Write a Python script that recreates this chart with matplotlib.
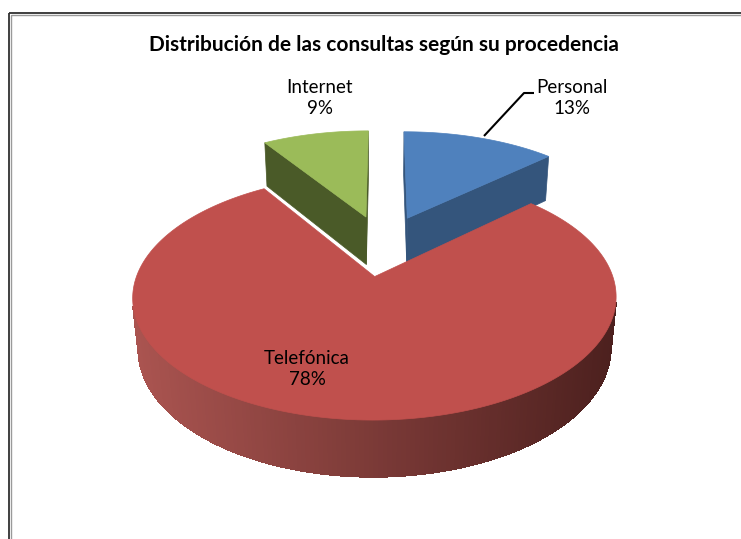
import matplotlib.pyplot as plt
import numpy as np
from matplotlib.patches import Polygon, Rectangle
from matplotlib.colors import to_rgb

# datos (orden de Excel, en sentido horario desde las 12)
categorias = ['Personal', 'Telefónica', 'Internet']
porcentajes = [13, 78, 9]
colores_sup = ['#4F81BD', '#C0504D', '#9BBB59']
colores_lado = ['#34557C', '#7B3433', '#4A5A28']
titulo = 'Distribución de las consultas según su procedencia'

# posiciones de las etiquetas (pixeles)
pos_etiquetas = [(572, 98), (307, 369), (320, 98)]

# proyeccion en perspectiva de la tarta 3D
phi = np.radians(28.5)
D = 5.4
F = 1228
cx, cy = 383, 245
h = 0.25      # grosor
e = 0.28      # separacion de porciones
cam = np.array([0, -D*np.cos(phi), D*np.sin(phi)])


def proj(X, Y, Z):
    prof = D + Y*np.cos(phi) - Z*np.sin(phi)
    up = Y*np.sin(phi) + Z*np.cos(phi)
    return cx + F*X/prof, cy - F*up/prof


def direc(t):
    r = np.radians(t)
    return np.array([np.sin(r), np.cos(r)])


def visible(p, n):
    return np.dot(cam - p, n) > 0


def cara(pts3):
    xs, ys = proj(*np.array(pts3).T)
    return np.column_stack([xs, ys])


fig = plt.figure(figsize=(7.41, 5.39), dpi=100)
ax = fig.add_axes([0, 0, 1, 1])
ax.set_xlim(0, 741)
ax.set_ylim(539, 0)
ax.axis('off')

fr = np.array(porcentajes) / sum(porcentajes)
ini = np.concatenate([[0], np.cumsum(fr)[:-1]]) * 360
fin = np.cumsum(fr) * 360
medio = (ini + fin) / 2
centros = [e*direc(m) for m in medio]

# de atras hacia delante
orden = sorted(range(len(porcentajes)), key=lambda i: -centros[i][1])

c_claro = np.array(to_rgb('#AA5450'))
c_oscuro = np.array(to_rgb('#4C201E'))

for i in orden:
    o = centros[i]
    # caras radiales
    for t, n in [(ini[i], np.array([-np.cos(np.radians(ini[i])), np.sin(np.radians(ini[i]))])),
                 (fin[i], np.array([np.cos(np.radians(fin[i])), -np.sin(np.radians(fin[i]))]))]:
        p = o + 0.5*direc(t)
        if visible(np.array([p[0], p[1], -h/2]), np.array([n[0], n[1], 0])):
            q = o + direc(t)
            pts = [(o[0], o[1], 0), (q[0], q[1], 0), (q[0], q[1], -h), (o[0], o[1], -h)]
            ax.add_patch(Polygon(cara(pts), closed=True, fc=colores_lado[i], ec=colores_lado[i], lw=0.5))
    # pared exterior
    ts = np.linspace(ini[i], fin[i], 300)
    tiras = []
    for a, b in zip(ts[:-1], ts[1:]):
        m = (a + b) / 2
        pm = o + direc(m)
        nm = direc(m)
        if visible(np.array([pm[0], pm[1], -h/2]), np.array([nm[0], nm[1], 0])):
            pa, pb = o + direc(a), o + direc(b)
            tiras.append(cara([(pa[0], pa[1], 0), (pb[0], pb[1], 0), (pb[0], pb[1], -h), (pa[0], pa[1], -h)]))
    if tiras:
        xm = [t[:, 0].mean() for t in tiras]
        x0, x1 = min(xm), max(xm)
        for t, x in zip(tiras, xm):
            k = (x - x0) / (x1 - x0)
            col = (1 - k)*c_claro + k*c_oscuro
            ax.add_patch(Polygon(t, closed=True, fc=col, ec=col, lw=0.8, antialiased=False))
    # cara superior
    arco = [(o[0] + np.sin(np.radians(t)), o[1] + np.cos(np.radians(t)), 0) for t in ts]
    pts = [(o[0], o[1], 0)] + arco
    ax.add_patch(Polygon(cara(pts), closed=True, fc=colores_sup[i], ec=colores_sup[i], lw=0.5))

# etiquetas
for nombre, pct, (x, y) in zip(categorias, porcentajes, pos_etiquetas):
    ax.text(x, y, f'{nombre}\n{pct}%', ha='center', va='center', fontsize=13.5,
            family='Lato', color='black', linespacing=1.25)

# linea guia de Personal
ax.plot([484, 524, 534], [136, 93, 93], color='black', lw=1.5, solid_capstyle='butt')

ax.text(384, 45, titulo, ha='center', va='center', fontsize=15,
        fontweight='bold', family='Lato', color='black')

# marco
ax.add_patch(Rectangle((8.5, 12.5), 800, 600, fill=False, ec='#303030', lw=1.3))
ax.add_patch(Rectangle((10.5, 14.5), 800, 600, fill=False, ec='#9a9a9a', lw=1.0))

plt.savefig('out.png', dpi=100)
